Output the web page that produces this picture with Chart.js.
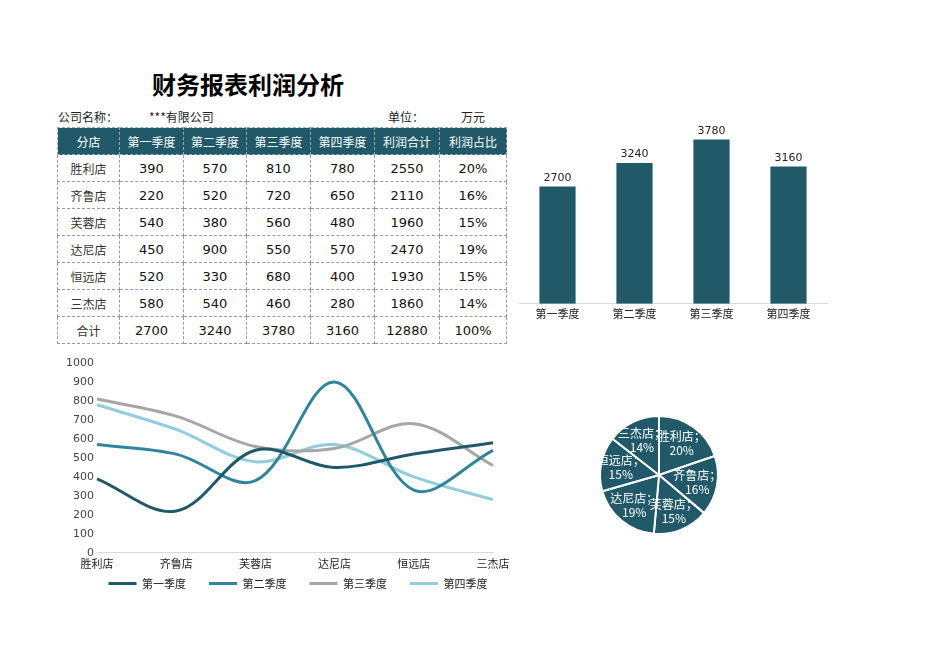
<!DOCTYPE html>
<html>
<head>
<meta charset="utf-8">
<script src="https://cdn.jsdelivr.net/npm/chart.js@4/dist/chart.umd.min.js"></script>
<style>
  body { margin: 0; background: #fff; font-family: "Noto Sans CJK SC", sans-serif; }
  #page { position: relative; width: 950px; height: 672px; overflow: hidden; }
  .abs { position: absolute; }
  #title { left: 57px; width: 382px; top: 66px; text-align: center; font-size: 24px; font-weight: bold; color: #000; }
  .info { top: 108px; font-size: 12px; color: #222; }
  table { position: absolute; left: 57px; top: 127px; border-collapse: collapse; table-layout: fixed; }
  td { border: 1px dashed #9a9a9a; height: 26px; padding: 0; text-align: center; font-size: 13px; color: #111; font-family: "DejaVu Sans", sans-serif; }
  td.cn { font-family: "Noto Sans CJK SC", sans-serif; font-size: 12px; color: #333; }
  tr.head td { background: #215968; color: #fff; font-family: "Noto Sans CJK SC", sans-serif; font-size: 12px; border-color: #8fb0b8; }
</style>
</head>
<body>
<div id="page">
  <div id="title" class="abs">财务报表利润分析</div>
  <div class="abs info" style="left:58px">公司名称：</div>
  <div class="abs info" style="left:149px">***有限公司</div>
  <div class="abs info" style="left:388px">单位：</div>
  <div class="abs info" style="left:461px">万元</div>
  <table id="tbl"></table>
  <canvas id="barChart" class="abs" style="left:510px;top:110px" width="330" height="220"></canvas>
  <canvas id="lineChart" class="abs" style="left:40px;top:352px" width="516" height="266"></canvas>
  <canvas id="pieChart" class="abs" style="left:589px;top:405px" width="140" height="140"></canvas>
</div>
<script>
// data
const stores = ['胜利店', '齐鲁店', '芙蓉店', '达尼店', '恒远店', '三杰店'];
const quarters = ['第一季度', '第二季度', '第三季度', '第四季度'];
const q1 = [390, 220, 540, 450, 520, 580];
const q2 = [570, 520, 380, 900, 330, 540];
const q3 = [810, 720, 560, 550, 680, 460];
const q4 = [780, 650, 480, 570, 400, 280];
const lineTicks = [0, 100, 200, 300, 400, 500, 600, 700, 800, 900, 1000];

const series = [q1, q2, q3, q4];
const storeTotals = stores.map((s, i) => series.reduce((a, q) => a + q[i], 0));
const quarterTotals = series.map(q => q.reduce((a, b) => a + b, 0));
const grandTotal = storeTotals.reduce((a, b) => a + b, 0);
const shares = storeTotals.map(t => Math.round(t / grandTotal * 100));

const dark = '#215968';
const lineColors = ['#215968', '#31849b', '#a6a6a6', '#92cddc'];

// table
const colW = [62, 64, 63, 64, 64, 65, 67];
let html = '<colgroup>' + colW.map(w => '<col style="width:' + w + 'px">').join('') + '</colgroup>';
html += '<tr class="head">' + ['分店'].concat(quarters, ['利润合计', '利润占比']).map(h => '<td>' + h + '</td>').join('') + '</tr>';
stores.forEach((s, i) => {
  html += '<tr><td class="cn">' + s + '</td>' + series.map(q => '<td>' + q[i] + '</td>').join('') +
    '<td>' + storeTotals[i] + '</td><td>' + shares[i] + '%</td></tr>';
});
html += '<tr><td class="cn">合计</td>' + quarterTotals.map(t => '<td>' + t + '</td>').join('') +
  '<td>' + grandTotal + '</td><td>100%</td></tr>';
document.getElementById('tbl').innerHTML = html;

// value labels above bars
const barLabels = {
  id: 'barLabels',
  afterDatasetsDraw(chart) {
    const ctx = chart.ctx;
    ctx.save();
    ctx.font = '11px "DejaVu Sans"';
    ctx.fillStyle = '#222';
    ctx.textAlign = 'center';
    ctx.textBaseline = 'bottom';
    chart.getDatasetMeta(0).data.forEach((bar, i) => {
      ctx.fillText(chart.data.datasets[0].data[i], bar.x, bar.y - 3);
    });
    ctx.restore();
  }
};

new Chart(document.getElementById('barChart'), {
  type: 'bar',
  data: {
    labels: quarters,
    datasets: [{ data: quarterTotals, backgroundColor: dark, borderWidth: 0, categoryPercentage: 1, barPercentage: 0.47 }]
  },
  options: {
    responsive: false,
    animation: false,
    layout: { padding: { left: 9, right: 13, top: 20, bottom: 7 } },
    plugins: { legend: { display: false }, tooltip: { enabled: false } },
    scales: {
      y: { display: false, min: 0, max: 4000 },
      x: {
        grid: { display: false, drawTicks: false },
        border: { color: '#d9d9d9' },
        ticks: { color: '#222', font: { family: 'Noto Sans CJK SC', size: 11 }, padding: 3 }
      }
    }
  },
  plugins: [barLabels]
});

// pull the legend row up closer to the axis labels
const legendLift = {
  id: 'legendLift',
  afterLayout(chart) {
    chart.legend.top -= 19;
    chart.legend.bottom -= 19;
  }
};

new Chart(document.getElementById('lineChart'), {
  type: 'line',
  data: {
    labels: stores,
    datasets: series.map((q, i) => ({
      label: quarters[i],
      data: q,
      borderColor: lineColors[i],
      backgroundColor: lineColors[i],
      borderWidth: 3,
      pointRadius: 0,
      tension: 0.35,
      fill: false
    }))
  },
  options: {
    responsive: false,
    animation: false,
    layout: { padding: { left: 0, right: 0, top: 11, bottom: 0 } },
    plugins: {
      tooltip: { enabled: false },
      legend: {
        position: 'bottom',
        labels: {
          usePointStyle: true, pointStyle: 'line', pointStyleWidth: 28,
          color: '#222', font: { family: 'Noto Sans CJK SC', size: 11 }, padding: 23, boxHeight: 11
        }
      }
    },
    scales: {
      y: {
        min: 0, max: 1000,
        afterBuildTicks: s => { s.ticks = lineTicks.map(v => ({ value: v })); },
        afterFit: s => { s.width = 57; },
        grid: { display: false, drawTicks: false },
        border: { display: false },
        ticks: { color: '#444', font: { family: 'DejaVu Sans', size: 11 }, padding: 3, callback: v => String(v) }
      },
      // empty right axis only reserves room so the legend is centred as in the original
      yRight: {
        position: 'right',
        afterFit: s => { s.width = 63; },
        grid: { display: false, drawTicks: false },
        border: { display: false },
        ticks: { display: false }
      },
      x: {
        grid: { display: false, drawTicks: false },
        border: { color: '#d9d9d9' },
        ticks: { color: '#222', font: { family: 'Noto Sans CJK SC', size: 11 }, padding: 4, maxRotation: 0 }
      }
    }
  },
  plugins: [legendLift]
});

// slice labels inside pie (white)
const pieLabels = {
  id: 'pieLabels',
  afterDatasetsDraw(chart) {
    const ctx = chart.ctx;
    ctx.save();
    ctx.font = '12px "Noto Sans CJK SC"';
    ctx.fillStyle = '#fff';
    ctx.textAlign = 'center';
    ctx.textBaseline = 'middle';
    chart.getDatasetMeta(0).data.forEach((arc, i) => {
      const mid = (arc.startAngle + arc.endAngle) / 2;
      const r = arc.outerRadius * 0.66;
      const x = arc.x + Math.cos(mid) * r;
      const y = arc.y + Math.sin(mid) * r;
      ctx.fillText(stores[i] + '；', x, y - 7);
      ctx.fillText(shares[i] + '%', x, y + 7);
    });
    ctx.restore();
  }
};

new Chart(document.getElementById('pieChart'), {
  type: 'pie',
  data: {
    labels: stores,
    datasets: [{ data: storeTotals, backgroundColor: dark, borderColor: '#fff', borderWidth: 2 }]
  },
  options: {
    responsive: false,
    animation: false,
    layout: { padding: 10 },
    plugins: { legend: { display: false }, tooltip: { enabled: false } }
  },
  plugins: [pieLabels]
});
</script>
</body>
</html>
